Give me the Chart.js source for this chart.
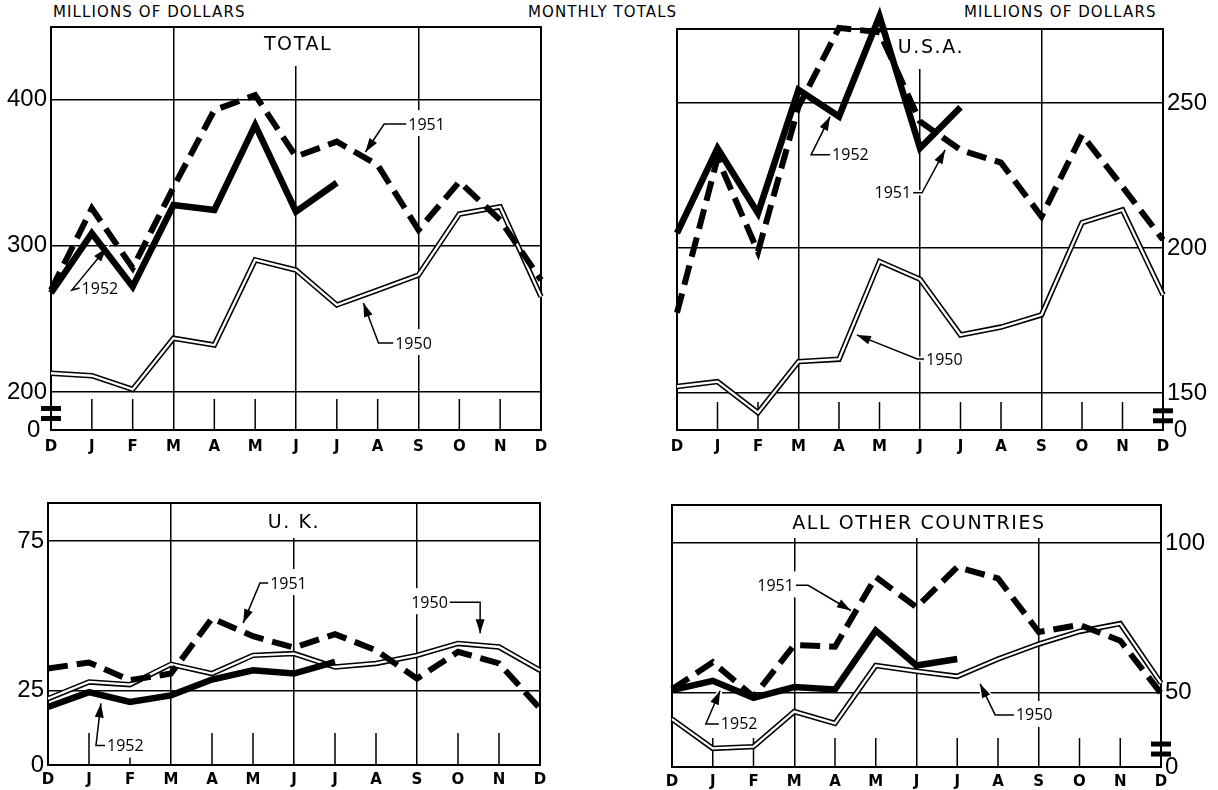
<!DOCTYPE html>
<html>
<head>
<meta charset="utf-8">
<script src="https://cdn.jsdelivr.net/npm/chart.js@4.4.1/dist/chart.umd.min.js"></script>
<style>
  body { margin: 0; background: #fff; width: 1218px; height: 790px; position: relative; overflow: hidden; }
  .hd { position: absolute; top: 5px; font-family: "DejaVu Sans", sans-serif; font-size: 15px; line-height: 15px; letter-spacing: 1.1px; color: #000; white-space: nowrap; }
  canvas { position: absolute; }
</style>
</head>
<body>
<div class="hd" style="left:53px">MILLIONS OF DOLLARS</div>
<div class="hd" style="left:528px">MONTHLY TOTALS</div>
<div class="hd" style="left:964px">MILLIONS OF DOLLARS</div>
<canvas id="c1" width="609" height="460" style="left:0;top:0"></canvas>
<canvas id="c2" width="609" height="460" style="left:609px;top:0"></canvas>
<canvas id="c3" width="609" height="330" style="left:0;top:460px"></canvas>
<canvas id="c4" width="609" height="330" style="left:609px;top:460px"></canvas>
<script>
var months = ['D', 'J', 'F', 'M', 'A', 'M', 'J', 'J', 'A', 'S', 'O', 'N', 'D'];

// TOTAL
var total1950 = [212.8, 211.1, 201.8, 236.7, 232.1, 290.3, 283.4, 259.5, 269.7, 280, 321.7, 326.7, 265.2];
var total1951 = [269.7, 325.6, 284.8, 340, 392.8, 403, 361, 371.2, 355.2, 310.8, 343.8, 317.6, 276.6];
var total1952 = [267.7, 308.5, 272, 327.9, 324.4, 382.6, 323.3, 343.1];
var totalTicks = [200, 300, 400];

// U.S.A.
var usa1950 = [152.3, 154, 143.3, 160.9, 161.7, 195.4, 189.3, 170.1, 172.8, 177, 208.8, 213.2, 183.9];
var usa1951 = [177.7, 231, 198.8, 248.8, 276, 274.5, 243.7, 233.9, 229.5, 210.9, 239.1, 221.2, 202.9];
var usa1952 = [205.2, 234.5, 212.1, 254.6, 245.4, 280, 234.5, 248.6];
var usaTicks = [150, 200, 250];

// U.K.
var uk1950 = [22.2, 27.8, 26.9, 33.7, 30.6, 36.7, 37.3, 32.8, 34, 36.7, 40.7, 39.5, 31.7];
var uk1951 = [32.3, 34.3, 28.4, 30.6, 49.1, 43.1, 39.3, 43.8, 38.4, 28.9, 37.9, 34, 18.9];
var uk1952 = [19.4, 24.4, 21.1, 23.3, 28.6, 31.7, 30.6, 34.5];
var ukTicks = [25, 75];

// ALL OTHER COUNTRIES
var other1950 = [41.2, 31.4, 32, 43.7, 39.8, 59.1, 57.2, 55.5, 61.3, 66.3, 70.5, 73.1, 53.2];
var other1951 = [51.2, 60.2, 48.7, 66, 65.4, 88.7, 78.6, 92, 88.2, 70.3, 72.7, 67.4, 49.8];
var other1952 = [50.9, 54, 48.3, 51.9, 51.1, 70.8, 59.1, 61.3];
var otherTicks = [50, 100];

// year call-outs: text at first point, leader to arrow tip (month index, value)
var totalNotes = [
  { text: '1951', align: 'left', path: [[8.70, 383.2], [8.16, 383.2], [7.70, 364.1]] },
  { text: '1952', align: 'left', path: [[0.70, 271.1], [0.51, 269.7], [1.36, 298.5]] },
  { text: '1950', align: 'left', path: [[8.38, 233.5], [8.02, 233.5], [7.65, 260.9]] }
];
var usaNotes = [
  { text: '1952', align: 'left', path: [[3.78, 232.2], [3.31, 232.2], [3.78, 245.4]] },
  { text: '1951', align: 'right', path: [[5.83, 219.1], [6.05, 219.1], [6.62, 233.9]] },
  { text: '1950', align: 'left', path: [[6.10, 161.8], [5.93, 161.8], [4.44, 170.1]] }
];
var ukNotes = [
  { text: '1951', align: 'left', path: [[5.37, 60.9], [5.17, 60.9], [4.76, 47.5]] },
  { text: '1950', align: 'right', path: [[9.80, 54.5], [10.54, 54.5], [10.54, 44.1]] },
  { text: '1952', align: 'left', path: [[1.39, 6.5], [1.17, 6.5], [1.29, 20.6]] }
];
var otherNotes = [
  { text: '1951', align: 'right', path: [[3.04, 85.9], [3.34, 85.9], [4.39, 77.5]] },
  { text: '1952', align: 'left', path: [[1.15, 39.6], [0.83, 39.6], [1.18, 50.7]] },
  { text: '1950', align: 'left', path: [[8.39, 42.6], [7.93, 42.6], [7.56, 53.0]] }
];

var panels = [
  { id: 'c1', title: 'TOTAL', titleAt: 6.05, titleY: 18, titleBox: 38, side: 'left',
    min: 174, max: 449.6, ticks: totalTicks, zero: '0 ', brk: 185.3,
    d50: total1950, d51: total1951, d52: total1952, notes: totalNotes,
    pad: { left: 0, right: 68, top: 27, bottom: 0 }, axisW: 51, axisH: 30, xPad: 8, tickLen: 31 },
  { id: 'c2', title: 'U.S.A.', titleAt: 6.27, titleY: 19.5, titleBox: 39, side: 'right',
    min: 137.3, max: 275.6, ticks: usaTicks, zero: ' 0', brk: 142.2,
    d50: usa1950, d51: usa1951, d52: usa1952, notes: usaNotes,
    pad: { left: 68, right: 0, top: 29, bottom: 0 }, axisW: 55, axisH: 30, xPad: 8, tickLen: 28 },
  { id: 'c3', title: 'U. K.', titleAt: 6.0, titleY: 20.5, titleBox: 34, side: 'left',
    min: 0, max: 87.7, ticks: ukTicks, zero: '0', brk: null,
    d50: uk1950, d51: uk1951, d52: uk1952, notes: ukNotes,
    pad: { left: 0, right: 69, top: 43, bottom: 0 }, axisW: 48, axisH: 25, xPad: 6, tickLen: 32 },
  { id: 'c4', title: 'ALL OTHER COUNTRIES', titleAt: 6.06, titleY: 19, titleBox: 32, side: 'right',
    min: 25.2, max: 112.75, ticks: otherTicks, zero: '0', brk: 31.2,
    d50: other1950, d51: other1951, d52: other1952, notes: otherNotes,
    pad: { left: 63, right: 0, top: 45, bottom: 0 }, axisW: 57, axisH: 23, xPad: 6, tickLen: 29 }
];

function arrowHead(ctx, from, tip) {
  var ang = Math.atan2(tip[1] - from[1], tip[0] - from[0]);
  var len = 14, hw = 4.5;
  var bx = tip[0] - len * Math.cos(ang), by = tip[1] - len * Math.sin(ang);
  ctx.beginPath();
  ctx.moveTo(tip[0], tip[1]);
  ctx.lineTo(bx + hw * Math.sin(ang), by - hw * Math.cos(ang));
  ctx.lineTo(bx - hw * Math.sin(ang), by + hw * Math.cos(ang));
  ctx.closePath();
}

var decor = {
  id: 'decor',
  beforeDatasetsDraw: function (chart, args, o) {
    var ctx = chart.ctx, a = chart.chartArea, xs = chart.scales.x, ys = chart.scales.y;
    ctx.save();
    // short month ticks
    ctx.strokeStyle = '#000';
    ctx.lineWidth = 1.5;
    for (var i = 1; i < months.length - 1; i++) {
      if (i % 3 === 0) continue;
      var px = xs.getPixelForValue(i);
      ctx.beginPath();
      ctx.moveTo(px, a.bottom);
      ctx.lineTo(px, a.bottom - o.tickLen);
      ctx.stroke();
    }
    // panel title
    ctx.font = '19px "DejaVu Sans"';
    ctx.letterSpacing = '1.6px';
    var tx = xs.getPixelForValue(o.titleAt), tw = ctx.measureText(o.title).width;
    ctx.fillStyle = '#fff';
    ctx.fillRect(tx - tw / 2 - 8, a.top + 1, tw + 16, o.titleBox);
    ctx.fillStyle = '#000';
    ctx.textAlign = 'center';
    ctx.textBaseline = 'middle';
    ctx.fillText(o.title, tx, a.top + o.titleY);
    ctx.letterSpacing = '0px';
    // year call-outs
    ctx.font = '16px "Open Sans"';
    o.notes.forEach(function (n) {
      var pts = n.path.map(function (p) { return [xs.getPixelForValue(p[0]), ys.getPixelForValue(p[1])]; });
      var w = ctx.measureText(n.text).width;
      var p0 = pts[0];
      var lx = n.align === 'left' ? p0[0] + 2 : p0[0] - 2 - w;
      ctx.fillStyle = '#fff';
      ctx.fillRect(lx - 3, p0[1] - 14, w + 6, 26);
      var tip = pts[pts.length - 1], prev = pts[pts.length - 2];
      // white halo
      ctx.strokeStyle = '#fff';
      ctx.lineWidth = 5;
      ctx.beginPath();
      pts.forEach(function (p, k) { if (k === 0) ctx.moveTo(p[0], p[1]); else ctx.lineTo(p[0], p[1]); });
      ctx.stroke();
      arrowHead(ctx, prev, tip);
      ctx.lineWidth = 3;
      ctx.stroke();
      // leader
      ctx.strokeStyle = '#000';
      ctx.lineWidth = 1.5;
      ctx.beginPath();
      pts.forEach(function (p, k) { if (k === 0) ctx.moveTo(p[0], p[1]); else ctx.lineTo(p[0], p[1]); });
      ctx.stroke();
      ctx.fillStyle = '#000';
      arrowHead(ctx, prev, tip);
      ctx.fill();
      ctx.textAlign = 'left';
      ctx.textBaseline = 'middle';
      ctx.fillText(n.text, lx, p0[1] + 1);
    });
    // frame
    ctx.strokeStyle = '#000';
    ctx.lineWidth = 2;
    ctx.strokeRect(a.left, a.top, a.width, a.height);
    ctx.restore();
  },
  afterDraw: function (chart, args, o) {
    if (o.brk === null) return;
    var ctx = chart.ctx, a = chart.chartArea, ys = chart.scales.y;
    var bx = o.side === 'left' ? a.left : a.right, by = ys.getPixelForValue(o.brk);
    ctx.save();
    ctx.fillStyle = '#000';
    ctx.fillRect(bx - 10, by - 7.5, 20, 5);
    ctx.fillRect(bx - 10, by + 2.5, 20, 5);
    ctx.restore();
  }
};

var lineBase = { pointRadius: 0, tension: 0, fill: false, clip: false, borderJoinStyle: 'miter', borderCapStyle: 'butt' };

panels.forEach(function (p) {
  var ctx = document.getElementById(p.id).getContext('2d');
  new Chart(ctx, {
    type: 'line',
    data: {
      labels: months,
      datasets: [
        Object.assign({ label: '1952', data: p.d52, borderColor: '#000', borderWidth: 6.5 }, lineBase),
        Object.assign({ label: '1951', data: p.d51, borderColor: '#000', borderWidth: 6, borderDash: [20, 9] }, lineBase),
        Object.assign({ label: '1950', data: p.d50, borderColor: '#fff', borderWidth: 2.3 }, lineBase),
        Object.assign({ label: '1950', data: p.d50, borderColor: '#000', borderWidth: 5.5 }, lineBase)
      ]
    },
    options: {
      responsive: false,
      animation: false,
      events: [],
      layout: { padding: p.pad },
      plugins: {
        legend: { display: false },
        tooltip: { enabled: false },
        decor: p
      },
      scales: {
        x: {
          type: 'category',
          offset: false,
          afterFit: function (s) { s.height = p.axisH; },
          border: { display: false },
          grid: {
            color: function (c) { return (c.index === 3 || c.index === 6 || c.index === 9) ? '#000' : 'rgba(0,0,0,0)'; },
            lineWidth: 1.5,
            drawTicks: false
          },
          ticks: { color: '#000', padding: p.xPad, maxRotation: 0, autoSkip: false,
                   font: { family: '"DejaVu Sans"', size: 15, weight: 'bold' } }
        },
        y: {
          position: p.side,
          min: p.min,
          max: p.max,
          afterBuildTicks: function (s) {
            s.ticks = [p.min].concat(p.ticks).map(function (v) { return { value: v }; });
          },
          afterFit: function (s) { s.width = p.axisW; },
          border: { display: false },
          grid: { color: '#000', lineWidth: 1.5, drawTicks: false },
          ticks: {
            color: '#000',
            padding: 4,
            font: { family: '"Liberation Sans"', size: 24 },
            callback: function (v) { return v === p.min ? p.zero : String(v); }
          }
        }
      }
    },
    plugins: [decor]
  });
});
</script>
</body>
</html>
